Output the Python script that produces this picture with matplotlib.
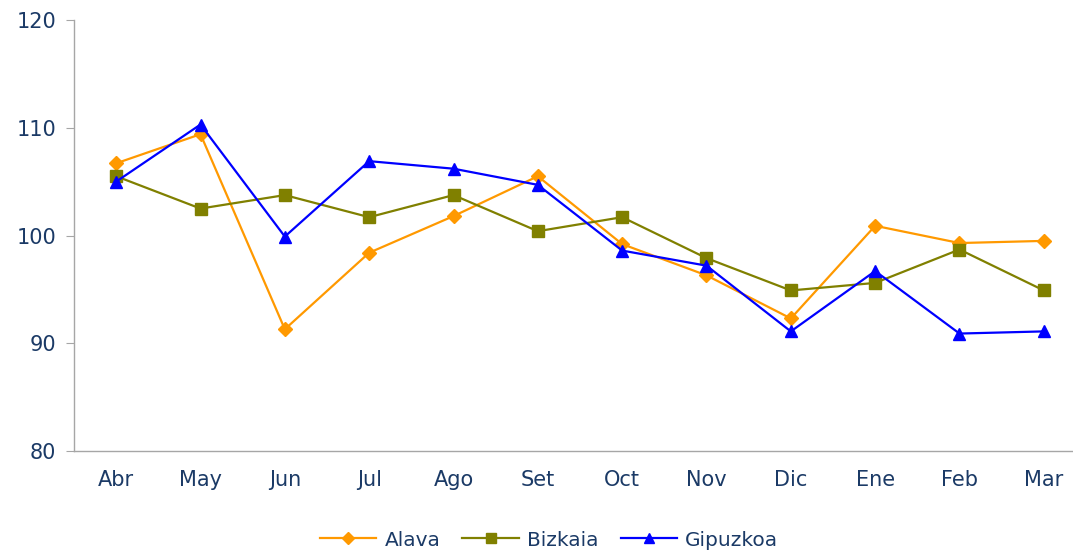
import matplotlib
matplotlib.use("Agg")
import matplotlib.pyplot as plt

# months (April to March)
months = ["Abr", "May", "Jun", "Jul", "Ago", "Set", "Oct", "Nov", "Dic", "Ene", "Feb", "Mar"]

alava = [106.7, 109.4, 91.3, 98.4, 101.8, 105.5, 99.2, 96.3, 92.3, 100.9, 99.3, 99.5]
bizkaia = [105.5, 102.5, 103.75, 101.7, 103.75, 100.4, 101.7, 97.9, 94.9, 95.6, 98.7, 94.9]
gipuzkoa = [105.0, 110.3, 99.9, 106.9, 106.2, 104.7, 98.6, 97.2, 91.1, 96.7, 90.9, 91.1]

text_color = "#1B3A66"
axis_color = "#A6A6A6"

fig = plt.figure(figsize=(10.73, 5.51), dpi=100)
ax = fig.add_axes([74 / 1073, 100 / 551, 1012 / 1073, 431 / 551])

x = list(range(len(months)))
ax.plot(x, alava, color="#FF9900", marker="D", markersize=7, linewidth=1.6, label="Alava")
ax.plot(x, bizkaia, color="#808000", marker="s", markersize=8, linewidth=1.6, label="Bizkaia")
ax.plot(x, gipuzkoa, color="#0000FF", marker="^", markersize=9, linewidth=1.6, label="Gipuzkoa")

ax.set_xlim(-0.5, len(months) - 0.5)
ax.set_ylim(80, 120)
ax.set_yticks([80, 90, 100, 110, 120])
ax.set_xticks(x)
ax.set_xticklabels(months)

for side in ["top", "right"]:
    ax.spines[side].set_visible(False)
for side in ["left", "bottom"]:
    ax.spines[side].set_color(axis_color)
    ax.spines[side].set_linewidth(1)

ax.tick_params(axis="y", colors=axis_color, labelcolor=text_color, labelsize=15, length=6, pad=7)
ax.tick_params(axis="x", length=0, labelcolor=text_color, labelsize=15, pad=14)

leg = ax.legend(loc="center", bbox_to_anchor=((549 - 74) / 1012, -89 / 431), ncol=3, frameon=False,
                fontsize=14.5, handlelength=2.8, columnspacing=1.1, handletextpad=0.4,
                labelcolor=text_color, markerscale=0.85)

fig.savefig("out.png", dpi=100)
